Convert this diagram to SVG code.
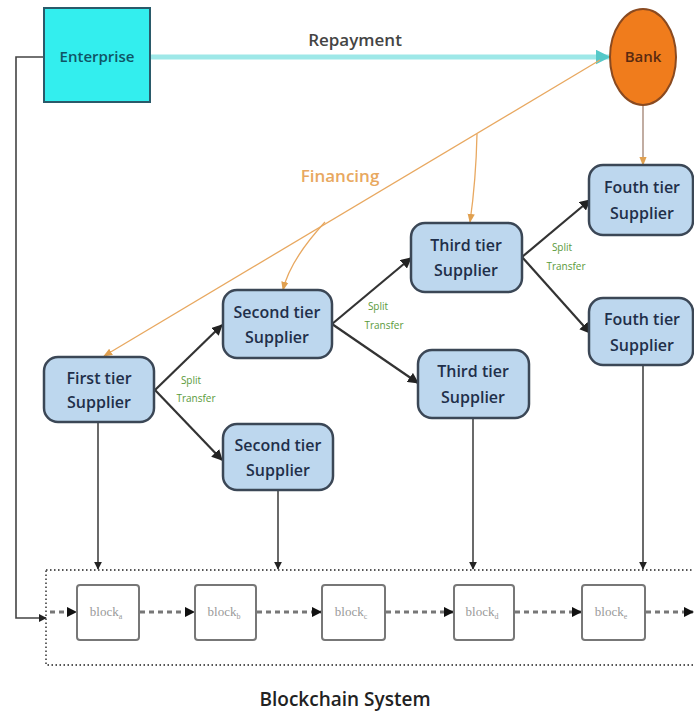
<svg xmlns="http://www.w3.org/2000/svg" width="694" height="715" viewBox="0 0 694 715">
<defs>
<style>
.node rect{fill:#BDD7EE;stroke:#3B4756;stroke-width:2.5}
.nt{font-family:"Open Sans","Liberation Sans",sans-serif;font-size:16px;font-weight:600;fill:#1F2F4A;text-anchor:middle}
.split{font-family:"Open Sans","Liberation Sans",sans-serif;font-size:10px;fill:#5A9A3A;text-anchor:middle}
.arr{stroke:#333;stroke-width:2.2;fill:none}
.fin{stroke:#E8A860;stroke-width:1.3;fill:none}
.down{stroke:#444;stroke-width:1.6;fill:none}
.blk{fill:#fff;stroke:#777;stroke-width:2}
.bt{font-family:"Liberation Serif",serif;font-size:13px;fill:#999;text-anchor:middle}
.dash{stroke:#777;stroke-width:3;stroke-dasharray:5 4;fill:none}
</style>
<marker id="ah" viewBox="0 0 10 10" refX="9" refY="5" markerWidth="5" markerHeight="5" orient="auto"><path d="M0,0L10,5L0,10z" fill="#222"/></marker>
<marker id="ahf" viewBox="0 0 10 10" refX="9" refY="5" markerWidth="7" markerHeight="7" orient="auto"><path d="M0,1L10,5L0,9z" fill="#E0A050"/></marker>
<marker id="ahc" viewBox="0 0 10 10" refX="9" refY="5" markerWidth="3" markerHeight="3" orient="auto"><path d="M0,0L10,5L0,10z" fill="#55C8C8"/></marker>
<marker id="ahb" viewBox="0 0 10 10" refX="9" refY="5" markerWidth="3.5" markerHeight="3.5" orient="auto"><path d="M0,0L10,5L0,10z" fill="#111"/></marker>
</defs>
<rect width="694" height="715" fill="#fff"/>

<g id="connectors">
<line x1="150" y1="57" x2="609" y2="57" stroke="#9EE8E8" stroke-width="5" marker-end="url(#ahc)"/>
<polyline points="44,57 16,57 16,618 46,618" class="down" marker-end="url(#ah)"/>
<line x1="600" y1="60" x2="104" y2="356" class="fin" marker-end="url(#ahf)"/>
<path d="M325,222 Q290,260 283,290" class="fin" marker-end="url(#ahf)"/>
<path d="M477,134 Q476,180 470,222" class="fin" marker-end="url(#ahf)"/>
<line x1="643" y1="105" x2="643" y2="165" stroke="#A08070" stroke-width="1.3" marker-end="url(#ahf)"/>
<line x1="155" y1="390" x2="222" y2="325" class="arr" marker-end="url(#ah)"/>
<line x1="155" y1="390" x2="222" y2="460" class="arr" marker-end="url(#ah)"/>
<line x1="332" y1="324" x2="411" y2="258" class="arr" marker-end="url(#ah)"/>
<line x1="332" y1="324" x2="418" y2="383" class="arr" marker-end="url(#ah)"/>
<line x1="522" y1="257" x2="590" y2="200" class="arr" marker-end="url(#ah)"/>
<line x1="522" y1="257" x2="590" y2="333" class="arr" marker-end="url(#ah)"/>
<line x1="98" y1="422" x2="98" y2="569" class="down" marker-end="url(#ah)"/>
<line x1="278" y1="490" x2="278" y2="569" class="down" marker-end="url(#ah)"/>
<line x1="473" y1="418" x2="473" y2="569" class="down" marker-end="url(#ah)"/>
<line x1="643" y1="365" x2="643" y2="569" class="down" marker-end="url(#ah)"/>
<line x1="50" y1="612" x2="76" y2="612" class="dash" marker-end="url(#ahb)"/>
<line x1="140" y1="612" x2="194" y2="612" class="dash" marker-end="url(#ahb)"/>
<line x1="257" y1="612" x2="321" y2="612" class="dash" marker-end="url(#ahb)"/>
<line x1="386" y1="612" x2="453" y2="612" class="dash" marker-end="url(#ahb)"/>
<line x1="515" y1="612" x2="581" y2="612" class="dash" marker-end="url(#ahb)"/>
<line x1="646" y1="612" x2="693" y2="612" class="dash" marker-end="url(#ahb)"/>
</g>

<text x="355" y="46" font-family="Open Sans,Liberation Sans,sans-serif" font-size="17" font-weight="600" fill="#444" text-anchor="middle">Repayment</text>
<text x="340" y="182" font-family="Open Sans,Liberation Sans,sans-serif" font-size="17" font-weight="600" fill="#E8A860" text-anchor="middle">Financing</text>
<text class="split" x="191" y="384">Split</text><text class="split" x="196" y="402">Transfer</text>
<text class="split" x="378" y="310">Split</text><text class="split" x="384" y="329">Transfer</text>
<text class="split" x="562" y="251">Split</text><text class="split" x="566" y="270">Transfer</text>

<g id="enterprise">
<rect x="44" y="8" width="106" height="94" fill="#33EEEE" stroke="#2A5A6A" stroke-width="2"/>
<text x="97" y="62" font-family="Open Sans,Liberation Sans,sans-serif" font-size="15" font-weight="600" fill="#0F5566" text-anchor="middle">Enterprise</text>
</g>
<g id="bank">
<ellipse cx="643" cy="57" rx="33" ry="48" fill="#F07C1C" stroke="#8A4A20" stroke-width="2"/>
<text x="643" y="62" font-family="Open Sans,Liberation Sans,sans-serif" font-size="15" font-weight="600" fill="#5A2A10" text-anchor="middle">Bank</text>
</g>

<g id="first-tier" class="node"><rect x="44" y="357" width="110" height="65" rx="14"/><text class="nt" x="99" y="384">First tier</text><text class="nt" x="99" y="408">Supplier</text></g>
<g id="second-tier-1" class="node"><rect x="223" y="290" width="109" height="68" rx="14"/><text class="nt" x="277" y="318">Second tier</text><text class="nt" x="277" y="343">Supplier</text></g>
<g id="second-tier-2" class="node"><rect x="223" y="424" width="110" height="66" rx="14"/><text class="nt" x="278" y="451">Second tier</text><text class="nt" x="278" y="476">Supplier</text></g>
<g id="third-tier-1" class="node"><rect x="411" y="223" width="111" height="69" rx="14"/><text class="nt" x="466" y="251">Third tier</text><text class="nt" x="466" y="276">Supplier</text></g>
<g id="third-tier-2" class="node"><rect x="418" y="350" width="111" height="68" rx="14"/><text class="nt" x="473" y="377">Third tier</text><text class="nt" x="473" y="403">Supplier</text></g>
<g id="fourth-tier-1" class="node"><rect x="589" y="165" width="104" height="70" rx="14"/><text class="nt" x="642" y="193">Fouth tier</text><text class="nt" x="642" y="219">Supplier</text></g>
<g id="fourth-tier-2" class="node"><rect x="589" y="298" width="104" height="67" rx="14"/><text class="nt" x="642" y="325">Fouth tier</text><text class="nt" x="642" y="351">Supplier</text></g>

<g id="blockchain">
<rect x="46" y="570" width="660" height="95" fill="none" stroke="#555" stroke-width="1.8" stroke-dasharray="1.5 2.5"/>
<g id="block-a"><rect class="blk" x="77" y="585" width="62" height="55" rx="3"/><text class="bt" x="106" y="616">block<tspan font-size="8" dy="3">a</tspan></text></g>
<g id="block-b"><rect class="blk" x="195" y="585" width="61" height="55" rx="3"/><text class="bt" x="224" y="616">block<tspan font-size="8" dy="3">b</tspan></text></g>
<g id="block-c"><rect class="blk" x="322" y="585" width="63" height="55" rx="3"/><text class="bt" x="351" y="616">block<tspan font-size="8" dy="3">c</tspan></text></g>
<g id="block-d"><rect class="blk" x="454" y="585" width="60" height="55" rx="3"/><text class="bt" x="482" y="616">block<tspan font-size="8" dy="3">d</tspan></text></g>
<g id="block-e"><rect class="blk" x="582" y="585" width="63" height="55" rx="3"/><text class="bt" x="611" y="616">block<tspan font-size="8" dy="3">e</tspan></text></g>
<text x="345" y="706" font-family="Open Sans,Liberation Sans,sans-serif" font-size="19" font-weight="600" fill="#222" text-anchor="middle">Blockchain System</text>
</g>
</svg>
